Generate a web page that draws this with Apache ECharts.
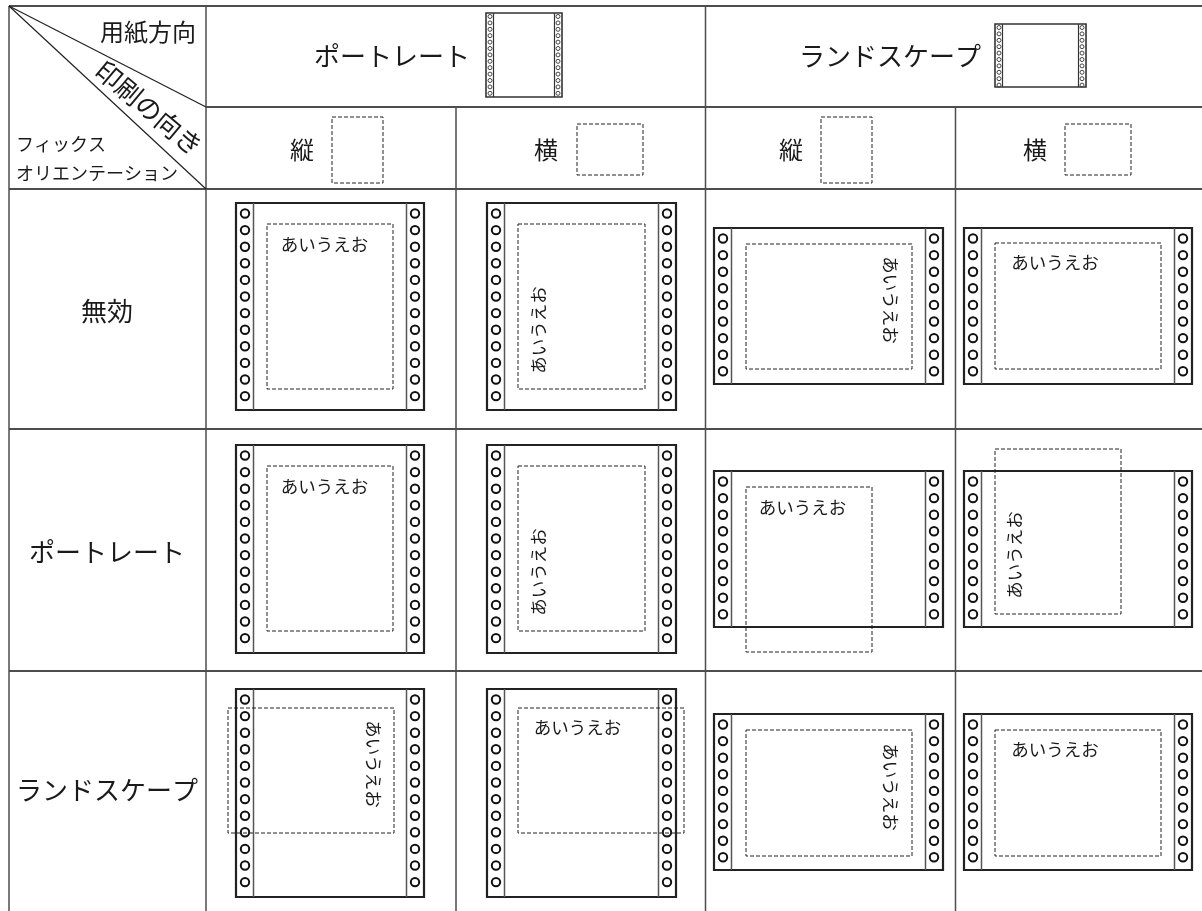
<!DOCTYPE html>
<html><head><meta charset="utf-8">
<style>html,body{margin:0;padding:0;background:#fff}#c{width:1202px;height:911px}</style>
<script src="https://cdn.jsdelivr.net/npm/echarts@6/dist/echarts.min.js"></script>
</head><body><div id="c"></div>
<script>
// ---- content ----
const paperDirections = ['ポートレート', 'ランドスケープ'];
const printDirections = ['縦', '横', '縦', '横'];
const fixLabels = ['無効', 'ポートレート', 'ランドスケープ'];
const cornerLabels = ['用紙方向', '印刷の向き', 'フィックス', 'オリエンテーション'];
const sampleText = 'あいうえお';
// table rules
const ruleX = [9, 206, 456, 705.5, 955.5];
const ruleY = [6, 107, 189, 429, 671];
const diagonalEnds = [[206, 107], [206, 189]];
// paper sheets in the body: [left, top, right, bottom]
const sheetsBody = [
  [236,203,424,410],[487,203,676,410],[714,228,943,384],[964,228,1192,384],
  [236,445,424,653],[487,445,676,653],[714,471,943,627],[964,471,1192,627],
  [236,689,424,897],[487,689,676,897],[714,714,943,870],[964,714,1192,870]
];
// dashed print areas in the body: [left, top, right, bottom]
const printAreas = [
  [267,224,393,389],[518,224,645,389],[746,244,912,369],[995,243,1161,369],
  [267,466,393,631],[518,466,645,631],[746,487,872,652],[995,449,1121,614],
  [228,708,394,833],[518,708,684,833],[746,730,912,856],[995,730,1161,856]
];
// sample text anchors: [x, y, rotation degrees]
const sampleAnchors = [
  [324.5,244,0],[538,330,90],[891,300,-90],[1055,262,0],
  [324.5,486,0],[538,572,90],[802.5,507,0],[1014,555,90],
  [374,764,-90],[577.5,727,0],[891,787,-90],[1055,749,0]
];
// header icons and header print-area frames
const iconSheets = [[486,13,562,97],[995,24,1086,87]];
const headerAreas = [[332,117,383,183],[577,124,643,175],[821,117,872,183],[1065,124,1131,175]];

// ---- derived geometry (in axis units) ----
const W = 1202, H = 911;
function stripsAndHoles(rects, stripW, holeInset, holeTop, holeBottom, gap) {
  const strips = [], holes = [];
  rects.forEach(r => {
    strips.push([r[0] + stripW, r[1], r[0] + stripW, r[3]], [r[2] - stripW, r[1], r[2] - stripW, r[3]]);
    const n = Math.round((r[3] - holeBottom - r[1] - holeTop) / gap) + 1;
    for (let i = 0; i < n; i++) {
      const y = r[1] + holeTop + i * gap;
      holes.push([r[0] + holeInset, y], [r[2] - holeInset, y]);
    }
  });
  return { strips, holes };
}
const big = stripsAndHoles(sheetsBody, 17.5, 9, 10.5, 14, 16.6);
const small = stripsAndHoles(iconSheets, 7.5, 4, 3.5, 4.5, 6.4);

const rules = [];
rules.push([ruleX[0], ruleY[0], W, ruleY[0], 2], [ruleX[0], ruleY[2], W, ruleY[2], 2], [ruleX[1], ruleY[1], W, ruleY[1], 2]);
rules.push([ruleX[0], ruleY[3], W, ruleY[3], 2], [ruleX[0], ruleY[4], W, ruleY[4], 2]);
rules.push([ruleX[0], ruleY[0], ruleX[0], H, 1.5], [ruleX[1], ruleY[0], ruleX[1], H, 1.5], [ruleX[3], ruleY[0], ruleX[3], H, 1.5]);
rules.push([ruleX[2], ruleY[1], ruleX[2], H, 1.5], [ruleX[4], ruleY[1], ruleX[4], H, 1.5]);
const diagonals = diagonalEnds.map(e => [ruleX[0], ruleY[0], e[0], e[1], 1.2]);

// text rows: label, x, y, size, rotation, align
const texts = [
  [cornerLabels[0], 196, 32, 24, 0, 'right'],
  [cornerLabels[1], 149, 108, 26, -40, 'center'],
  [cornerLabels[2], 16, 144, 18, 0, 'left'],
  [cornerLabels[3], 16, 173, 18, 0, 'left'],
  [paperDirections[0], 392, 56, 26, 0, 'center'],
  [paperDirections[1], 890, 56, 26, 0, 'center'],
  [printDirections[0], 302, 150, 24, 0, 'center'],
  [printDirections[1], 546, 150, 24, 0, 'center'],
  [printDirections[2], 791, 150, 24, 0, 'center'],
  [printDirections[3], 1035, 150, 24, 0, 'center'],
  [fixLabels[0], 107, 311, 26, 0, 'center'],
  [fixLabels[1], 107, 552, 26, 0, 'center'],
  [fixLabels[2], 107, 790, 26, 0, 'center']
];
sampleAnchors.forEach(a => texts.push([sampleText, a[0], a[1], 17.5, a[2], 'center']));

function lineSeries(data, color, width) {
  return {
    type: 'custom', coordinateSystem: 'cartesian2d', silent: true, clip: false, data,
    renderItem(p, api) {
      const a = api.coord([api.value(0), api.value(1)]), b = api.coord([api.value(2), api.value(3)]);
      return { type: 'line', shape: { x1: a[0], y1: a[1], x2: b[0], y2: b[1] },
        style: { stroke: color, lineWidth: api.value(4) || width } };
    }
  };
}
function rectSeries(data, color, width, dash) {
  return {
    type: 'custom', coordinateSystem: 'cartesian2d', silent: true, clip: false, data,
    renderItem(p, api) {
      const a = api.coord([api.value(0), api.value(1)]), b = api.coord([api.value(2), api.value(3)]);
      return { type: 'rect', shape: { x: a[0], y: a[1], width: b[0] - a[0], height: b[1] - a[1] },
        style: { fill: 'none', stroke: color, lineWidth: width, lineDash: dash || null } };
    }
  };
}
function holeSeries(data, r, color, width) {
  return {
    type: 'custom', coordinateSystem: 'cartesian2d', silent: true, clip: false, data,
    renderItem(p, api) {
      const a = api.coord([api.value(0), api.value(1)]);
      return { type: 'circle', shape: { cx: a[0], cy: a[1], r },
        style: { fill: 'none', stroke: color, lineWidth: width } };
    }
  };
}
const textSeries = {
  type: 'custom', coordinateSystem: 'cartesian2d', silent: true, clip: false,
  data: texts.map(t => ({ name: t[0], value: [t[1], t[2], t[3], t[4]] })),
  renderItem(p, api) {
    const a = api.coord([api.value(0), api.value(1)]);
    const t = texts[p.dataIndex];
    return { type: 'text', x: a[0], y: a[1], rotation: api.value(3) * Math.PI / 180,
      style: { text: t[0], fontSize: api.value(2), fontFamily: '"Noto Sans CJK JP"', fontWeight: 400,
        fill: '#1a1a1a', align: t[5], verticalAlign: 'middle' } };
  }
};

const chart = echarts.init(document.getElementById('c'), null, { renderer: 'canvas' });
chart.setOption({
  animation: false,
  backgroundColor: '#fff',
  grid: { left: 0, right: 0, top: 0, bottom: 0 },
  xAxis: { type: 'value', min: 0, max: W, show: false },
  yAxis: { type: 'value', min: 0, max: H, inverse: true, show: false },
  series: [
    lineSeries(rules, '#4d4d4d', 2),
    lineSeries(diagonals, '#222', 1.2),
    rectSeries(sheetsBody, '#222', 2.2),
    lineSeries(big.strips, '#555', 1.5),
    holeSeries(big.holes, 4.2, '#111', 2),
    rectSeries(iconSheets, '#333', 1.6),
    lineSeries(small.strips, '#333', 1.2),
    holeSeries(small.holes, 2, '#444', 1),
    rectSeries(headerAreas, '#222', 1, [4, 2]),
    rectSeries(printAreas, '#222', 1, [4, 2]),
    textSeries
  ]
});
</script></body></html>
